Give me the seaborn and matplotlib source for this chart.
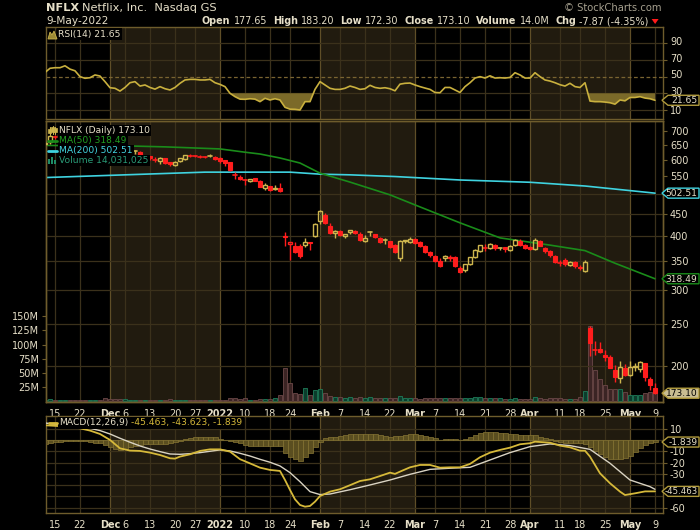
import numpy as np
import pandas as pd
import matplotlib
matplotlib.use("Agg")
import matplotlib.pyplot as plt
import seaborn as sns
from matplotlib.patches import Rectangle, Polygon
from matplotlib.lines import Line2D
from matplotlib.ticker import FixedLocator, NullLocator
from matplotlib.transforms import ScaledTranslation

# ---------------- data ----------------
dates = (
    ["2021-11-%02d" % d for d in [11, 12, 15, 16, 17, 18, 19, 22, 23, 24, 26, 29, 30]]
    + ["2021-12-%02d" % d for d in [1, 2, 3, 6, 7, 8, 9, 10, 13, 14, 15, 16, 17, 20, 21, 22, 23, 27, 28, 29, 30, 31]]
    + ["2022-01-%02d" % d for d in [3, 4, 5, 6, 7, 10, 11, 12, 13, 14, 18, 19, 20, 21, 24, 25, 26, 27, 28, 31]]
    + ["2022-02-%02d" % d for d in [1, 2, 3, 4, 7, 8, 9, 10, 11, 14, 15, 16, 17, 18, 22, 23, 24, 25, 28]]
    + ["2022-03-%02d" % d for d in [1, 2, 3, 4, 7, 8, 9, 10, 11, 14, 15, 16, 17, 18, 21, 22, 23, 24, 25, 28, 29, 30, 31]]
    + ["2022-04-%02d" % d for d in [1, 4, 5, 6, 7, 8, 11, 12, 13, 14, 18, 19, 20, 21, 22, 25, 26, 27, 28, 29]]
    + ["2022-05-%02d" % d for d in [2, 3, 4, 5, 6, 9]]
)

opens = [653, 660, 681.2, 678.3, 690, 691.6, 683, 676, 658, 658, 655, 663, 668,
         647, 608, 616, 603, 616, 627, 627, 608, 612, 600, 596, 605, 592, 585, 596, 603, 615, 615, 613, 610, 612, 610,
         605, 599, 592, 555, 549, 538, 536, 544, 537, 517, 521, 513, 517, 400.4, 383.9, 379.1, 378.3, 382.1, 386.8, 401,
         433, 448.3, 421.4, 407.3, 410.2, 399, 408, 410, 405, 390, 406, 404, 396, 390, 389, 382, 355, 389, 388,
         393, 387, 380, 367, 360, 351, 356, 355, 358, 338, 333, 345, 358, 369, 375, 375, 382, 377, 377, 372, 381, 390, 381,
         377, 374, 390, 376, 370, 360, 347, 352, 342, 348, 339, 332, 245, 219, 219.5, 212.5, 210, 196, 188, 197.5,
         191, 199, 197, 203, 187, 177.65]
highs = [663, 683.3, 685.3, 688.4, 694.2, 691.7, 686, 679, 661, 662, 670, 673, 668,
         650, 620, 621, 616, 627, 632, 630, 616, 614, 608, 610, 606, 594, 597, 606, 617, 618, 616, 615, 613, 620, 612,
         609, 600, 593, 563, 553, 543, 543, 546, 538, 530, 523, 525, 530, 409.2, 387.3, 387.7, 382.7, 394.8, 387, 427.7,
         458.5, 452, 429.3, 412.8, 412.2, 405, 414, 414, 408, 402, 410, 405, 397, 395, 390, 383, 392, 392, 398,
         396, 389, 382, 369, 362, 355, 361, 361, 360, 341, 345, 358, 373, 382, 384, 385, 384, 378, 378, 381, 393, 393, 383,
         380, 395, 392, 378, 372, 362, 352, 355, 350, 350, 343, 352, 248, 229, 228, 218, 212, 201, 205, 202,
         205, 203, 205, 203.5, 189, 183.2]
lows = [650, 653.9, 671.5, 676.9, 682.6, 674.5, 676, 657, 645, 648, 650, 660, 636,
        616, 599, 597, 595, 614, 620, 610, 603, 601, 592, 588, 588, 582, 582, 592, 601, 610, 608, 605, 605, 610, 601,
        590, 581, 566, 542, 538, 526, 533, 535, 518, 512, 509, 510, 505, 380, 351.5, 365.1, 356.6, 378.1, 372.1, 398.2,
        425.5, 426.5, 404.3, 396.6, 400, 396, 404, 404, 390, 388, 401, 396, 385, 384, 375, 366, 351, 385, 386,
        384, 377, 365, 358, 348, 339, 350, 350, 339, 329, 331, 342, 356, 368, 370, 374, 371, 371, 368, 369, 380, 380, 374,
        371, 372, 379, 365, 358, 347, 341, 341, 340, 338, 333, 330, 211, 212, 214, 205, 198, 184, 183, 189.5,
        190, 195, 194, 185, 176, 172.3]
closes = [657.6, 682.6, 679.3, 687.4, 691.7, 682.0, 678.8, 659.2, 654.1, 658.3, 665.6, 663.8, 641.9,
          617.8, 616.5, 602.1, 612.7, 625.6, 628.1, 611.0, 611.7, 604.6, 598.0, 605.0, 591.1, 586.7, 593.7, 604.9, 614.2,
          614.1, 613.1, 610.7, 610.5, 612.1, 602.4,
          597.4, 591.2, 567.5, 553.3, 541.1, 539.9, 540.8, 537.2, 519.2, 525.7, 510.8, 515.9, 508.3, 397.5, 387.2, 366.4,
          359.7, 386.7, 384.4, 427.1,
          457.1, 429.5, 405.6, 410.2, 402.1, 403.5, 412.9, 406.3, 391.3, 396.6, 407.5, 398.1, 386.7, 391.3, 377.4, 367.5,
          390.0, 390.8, 394.5,
          386.2, 380.0, 368.1, 361.7, 350.3, 341.8, 358.8, 356.8, 340.3, 331.0, 343.8, 357.5, 371.4, 380.6, 374.6, 382.9,
          374.5, 375.7, 373.9, 378.5, 391.8, 381.5, 374.6,
          373.5, 391.5, 380.2, 368.4, 362.2, 348.7, 346.0, 345.0, 348.5, 340.0, 337.5, 348.6, 226.2, 218.2, 215.5, 209.9,
          198.4, 188.5, 199.5, 190.4,
          199.5, 199.9, 204.0, 188.3, 181.0, 173.1]
volumes_m = [2.6, 4.6, 3.0, 2.6, 2.9, 2.6, 2.4, 3.4, 2.9, 2.4, 1.8, 2.4, 6.5,
             4.7, 3.8, 4.7, 3.6, 3.2, 2.9, 3.2, 2.8, 2.9, 3.1, 3.3, 3.4, 3.6, 2.7, 3.0, 3.1, 2.0, 1.9, 2.1, 1.8, 1.7, 2.0,
             3.1, 3.4, 5.2, 5.6, 4.8, 5.9, 3.4, 3.2, 5.0, 4.1, 4.4, 6.7, 11.5, 58.9, 32.3, 15.0, 13.0, 23.6, 11.0, 20.0,
             21.7, 14.7, 10.0, 7.6, 7.0, 6.5, 7.5, 6.8, 8.5, 6.9, 7.2, 5.8, 6.7, 5.5, 6.9, 6.4, 8.9, 6.0, 5.2,
             5.9, 5.0, 5.6, 5.4, 6.5, 6.2, 6.4, 5.2, 6.8, 6.8, 6.1, 6.0, 7.4, 7.8, 5.6, 6.3, 5.4, 5.9, 4.4, 5.0, 6.4, 4.9, 4.1,
             4.5, 7.6, 5.6, 5.0, 5.2, 5.9, 5.4, 4.3, 5.1, 4.9, 7.0, 17.7, 133.4, 55.0, 39.0, 29.0, 21.7, 21.7, 22.0, 16.0,
             12.0, 12.0, 12.0, 14.0, 17.0, 14.0]

ma50_idx = [0, 17, 24, 35, 40, 43, 47, 51, 55, 61, 69, 74, 83, 91, 101, 108, 114, 122]
ma50_val = [648, 646, 643, 636, 625, 619, 606, 590, 559, 533, 498, 472, 429, 396, 381, 370, 346, 318.49]
ma200_idx = [0, 16, 26, 32, 49, 55, 61, 70, 83, 97, 108, 122]
ma200_val = [546, 554, 559, 562, 562, 556, 554, 549, 539, 532.5, 522, 502.51]

rsi = [55, 60, 60.7, 60.7, 63, 59, 57, 50, 48, 48.7, 52, 50.7, 44, 36.7, 36, 32.7, 37, 42.7, 44, 38.7,
       40, 37, 35, 38, 35.5, 34, 37, 42, 46, 46.7, 46.7, 46, 46, 46.7, 42.7, 40.7, 38, 30, 26, 23,
       22.8, 23.5, 23, 20, 24, 22, 23.5, 22, 13.2, 11, 10.8, 10, 20, 20, 34.7, 44, 40, 36, 34.7, 34.7,
       36, 38.7, 37, 34.7, 35.5, 39.6, 37, 36, 36.7, 35.5, 33, 41, 42, 42.3, 40, 38, 36.3, 34.7, 31, 30.7,
       37, 37, 34, 31, 38, 42.7, 48.3, 50, 48.3, 51, 48.3, 48.7, 48.3, 49, 54.7, 52, 48.3, 48.3, 54.7, 50,
       46, 44.7, 42.7, 40.3, 38.7, 42, 38, 37, 42.7, 20.7, 20, 20, 19.5, 18.7, 17, 22, 21, 25, 25, 26,
       24.3, 23.5, 21.65]

macd_idx = [0, 4, 7, 9, 11, 13, 15, 17, 19, 21, 23, 25, 26, 27, 29, 31, 33, 35, 37, 39, 41, 43, 45, 47, 48, 49,
            50, 51, 52, 53, 54, 55, 57, 59, 61, 63, 65, 67, 69, 70, 71, 73, 75, 77, 79, 81, 83, 85, 87, 89, 91, 93,
            95, 97, 98, 101, 103, 105, 107, 108, 109, 111, 113, 115, 116, 118, 120, 122]
macd_val = [13, 12, 10.3, 8.3, 5.3, 0, -7.4, -9.4, -9.7, -11.2, -13.3, -16.2, -16.5, -14.7, -12.7, -9.7, -8.3,
            -8.3, -10.3, -17, -20.7, -24.5, -26.5, -27.4, -35.4, -44.2, -52.5, -57.5, -59, -58.4, -54.6, -49.6,
            -45.7, -43.6, -40, -36.3, -34.8, -31.9, -28.9, -30, -28, -24.2, -22.1, -22.1, -24.5, -24.2, -24.2,
            -21.2, -15.3, -11.2, -8.8, -6.8, -3.8, -2.9, -1.5, -2.4, -5, -6.5, -9.5, -9.5, -14.7, -29.5, -38.3,
            -45.7, -48.7, -47.2, -45.5, -45.463]
signal_idx = [0, 4, 9, 11, 13, 15, 17, 19, 21, 23, 25, 27, 29, 31, 33, 35, 37, 39, 41, 43, 45, 47, 49, 51, 53,
              55, 57, 61, 65, 69, 73, 77, 81, 85, 89, 93, 97, 101, 105, 109, 113, 117, 121, 122]
signal_val = [15, 13, 10.3, 8.3, 5.3, 1.5, -2, -5.3, -8, -10.3, -12.4, -12.7, -12.1, -11.2, -10, -8.8, -9.7,
              -11.8, -14.2, -17.1, -19.7, -23, -28.9, -36.9, -45.7, -48.3, -47.8, -44, -39.8, -35.4, -30.4, -26,
              -25, -24.2, -17.7, -11.2, -5.9, -3.5, -5, -8.3, -20.6, -35.4, -41.3, -43.623]
hist = [-4, -3, -2, -1.5, -1, -0.8, -0.8, -1, -1.2, -1.8, -2.5, -3, -4.5, -6, -8, -8.8, -8, -6.5, -5.3, -4.4,
        -4, -3.8, -3.6, -3.5, -3.2, -3, -2, -0.6, 1, 1.8, 2.2, 2.4, 2.7, 3, 2.2, 1, 0, -1, -2, -3,
        -4.2, -5.3, -5.3, -5.3, -5.3, -5.3, -5.3, -5.3, -11.2, -14.7, -17.1, -18.3, -14.7, -11.8, -5.9, -1.5, 1.5, 2.2, 2.8, 3.3,
        4, 5.3, 5.3, 5.3, 5.3, 5.3, 5, 4.7, 3.8, 3, 3.4, 3.8, 4.6, 5.3, 5, 4.7, 3.8, 3, 1.5, 0,
        0.8, 1.2, 0.6, 0, 1, 2.4, 4.2, 5.9, 6.8, 7.4, 6.8, 6.2, 5.8, 5.3, 5, 4.7, 4.7, 4.7, 4, 3,
        2, 0.9, -0.5, -2, -2.3, -2.6, -2.8, -3, -4, -6.5, -9.5, -12.4, -14.8, -16.8, -16.8, -16.8, -15.8, -14, -10.9, -7.1,
        -4.5, -3, -1.839]

tick_dates = ["2021-11-15", "2021-11-22", "2021-12-01", "2021-12-06", "2021-12-13", "2021-12-20", "2021-12-27",
              "2022-01-03", "2022-01-10", "2022-01-18", "2022-01-24", "2022-02-01", "2022-02-07", "2022-02-14",
              "2022-02-22", "2022-03-01", "2022-03-07", "2022-03-14", "2022-03-21", "2022-03-28", "2022-04-01",
              "2022-04-11", "2022-04-18", "2022-04-25", "2022-05-02", "2022-05-09"]
tick_labels = ["15", "22", "Dec", "6", "13", "20", "27", "2022", "10", "18", "24", "Feb", "7", "14", "22", "Mar",
               "7", "14", "21", "28", "Apr", "11", "18", "25", "May", "9"]
month_labels = ["Dec", "2022", "Feb", "Mar", "Apr", "May"]
shade_months = [("2021-12-01", "2022-01-03"), ("2022-02-01", "2022-03-01"), ("2022-04-01", "2022-05-02")]

price_ticks = [200, 250, 300, 350, 400, 450, 550, 600, 650, 700]
price_grid = [200, 250, 300, 350, 400, 450, 500]
vol_ticks = [25, 50, 75, 100, 125, 150]
rsi_ticks = [10, 30, 50, 70, 90]
macd_ticks = [10, -10, -20, -30, -60]

# ---------------- style ----------------
sns.set_theme(style="dark")
plt.rcParams['font.family'] = ['DejaVu Sans']

SHADE = '#211b0f'
GRID = '#3b311b'
GRID_M = '#5f4e27'
FRAME = '#6e5c2c'
TXT = '#e6dfc8'
GOLD = '#cdb54e'
RED = '#ff1d1d'
FS = 7.0

df = pd.DataFrame({"date": dates, "open": opens, "high": highs, "low": lows, "close": closes, "vol": volumes_m})
df["i"] = np.arange(len(df))
pos = {d: k for k, d in enumerate(dates)}
tick_pos = [pos[d] for d in tick_dates]
XLIM = (0.2, 123.6)

W_, H_ = 700, 530
fig = plt.figure(figsize=(7, 5.3), dpi=100, facecolor='black')
L, W = 46 / W_, 617 / W_


def frame_box(top, bot):
    return [L, 1 - bot / H_, W, (bot - top) / H_]


ax_r = fig.add_axes(frame_box(27, 119))
ax_v = fig.add_axes(frame_box(121, 402))
ax_p = ax_v.twinx()
ax_m = fig.add_axes(frame_box(416, 513))
ax_p.set_zorder(ax_v.get_zorder() + 1)
ax_p.patch.set_visible(False)

for ax in (ax_r, ax_v, ax_p, ax_m):
    ax.set_facecolor('black')
    ax.grid(False)
    for s in ax.spines.values():
        s.set_color(FRAME)
        s.set_linewidth(1.0)
    ax.tick_params(colors=TXT, labelsize=FS, length=3, width=0.8, pad=2)
    ax.tick_params(axis='both', which='both', color=FRAME)
    ax.set_xlim(*XLIM)

# bands and vertical grid
for ax in (ax_r, ax_v, ax_m):
    for a, b in shade_months:
        ax.axvspan(pos[a], pos[b], color=SHADE, lw=0, zorder=0)
    for t, lab in zip(tick_pos, tick_labels):
        ax.axvline(t, color=GRID_M if lab in month_labels else GRID, lw=0.9, zorder=0.5)

# ---------------- RSI ----------------
for v in [10, 30, 70, 90]:
    ax_r.axhline(v, color=GRID, lw=0.9, zorder=0.6)
ax_r.axhline(50, color='#7a6431', lw=0.9, ls=(0, (3, 2)), zorder=0.6)
r = np.array(rsi)
ax_r.fill_between(df["i"], r, 30, where=r < 30, interpolate=True, color='#7b6a29', lw=0, zorder=1)
sns.lineplot(x=df["i"], y=r, ax=ax_r, color='#c9b03e', lw=1.2, zorder=3)
ax_r.set_ylim(-0.8, 109.5)
ax_r.yaxis.tick_right()
ax_r.set_yticks(rsi_ticks)
ax_r.set_yticklabels([str(v) for v in rsi_ticks])
for lab in ax_r.get_yticklabels():
    if lab.get_text() in ("30", "50", "70", "90"):
        lab.set_transform(lab.get_transform() + ScaledTranslation(0, 1.6 / 72, fig.dpi_scale_trans))
ax_r.set_xticks(tick_pos)
ax_r.tick_params(axis='x', length=0, labelbottom=False)
ax_r.set_xlabel(""); ax_r.set_ylabel("")

# ---------------- volume ----------------
up = df["close"].values >= np.r_[df["open"].values[0], df["close"].values[:-1]]
vcol = np.where(up, '#0c3c2c', '#3b2424')
vedge = np.where(up, '#1f7d5a', '#6c4848')
ax_v.bar(df["i"], df["vol"], width=0.92, color=vcol, edgecolor=vedge, lw=0.6, zorder=2)
ax_v.set_ylim(-1, 494)
ax_v.yaxis.tick_left()
ax_v.set_yticks(vol_ticks)
ax_v.set_yticklabels([f"{v}M" for v in vol_ticks])
ax_v.set_xticks(tick_pos)
ax_v.set_xticklabels(tick_labels)
for tl in ax_v.get_xticklabels():
    if tl.get_text() in month_labels:
        tl.set_fontweight('bold')

# ---------------- price ----------------
ax_p.set_yscale('log')
ax_p.set_ylim(165.2, 738)
ax_p.yaxis.set_major_locator(FixedLocator(price_ticks))
ax_p.yaxis.set_minor_locator(NullLocator())
ax_p.set_yticklabels([str(v) for v in price_ticks])
ax_p.tick_params(axis='y', colors=TXT, labelsize=FS, color=FRAME, length=3)
for v in price_grid:
    ax_p.axhline(v, color=GRID, lw=0.9, zorder=0.6)

sns.lineplot(x=ma200_idx, y=ma200_val, ax=ax_p, color='#3fd3e0', lw=1.2, zorder=2)
sns.lineplot(x=ma50_idx, y=ma50_val, ax=ax_p, color='#1a8c1a', lw=1.2, zorder=2)

prev = np.r_[opens[0], closes[:-1]]
for k in range(len(df)):
    o, h, l, c = opens[k], highs[k], lows[k], closes[k]
    col = RED if c < prev[k] else GOLD
    lo_b, hi_b = min(o, c), max(o, c)
    if hi_b / lo_b < 1.004:
        ax_p.plot([k, k], [l, h], color=col, lw=1.0, zorder=3, solid_capstyle='butt')
        ax_p.plot([k - 0.35, k + 0.35], [c, c], color=col, lw=1.2, zorder=3)
        continue
    if c < o:
        ax_p.plot([k, k], [l, h], color=col, lw=1.0, zorder=3, solid_capstyle='butt')
        ax_p.add_patch(Rectangle((k - 0.33, lo_b), 0.66, hi_b - lo_b, facecolor=col, edgecolor=col, lw=0.8, zorder=4))
    else:
        ax_p.plot([k, k], [l, lo_b], color=col, lw=1.0, zorder=3, solid_capstyle='butt')
        ax_p.plot([k, k], [hi_b, h], color=col, lw=1.0, zorder=3, solid_capstyle='butt')
        ax_p.add_patch(Rectangle((k - 0.33, lo_b), 0.66, hi_b - lo_b, facecolor='none', edgecolor=col, lw=1.0, zorder=4))
ax_p.set_xlim(*XLIM)
ax_p.set_xlabel(""); ax_p.set_ylabel("")
ax_v.set_xlabel(""); ax_v.set_ylabel("")

# ---------------- MACD ----------------
for v in [10, 0, -10, -20, -30, -40, -50, -60]:
    ax_m.axhline(v, color=GRID, lw=0.9, zorder=0.6)
ax_m.bar(df["i"], hist, width=1.0, color='#5a4e20', edgecolor='#877634', lw=0.5, zorder=1)
sns.lineplot(x=signal_idx, y=signal_val, ax=ax_m, color='#d9d3c3', lw=1.0, zorder=3)
sns.lineplot(x=macd_idx, y=macd_val, ax=ax_m, color='#d6b93a', lw=1.3, zorder=4)
ax_m.set_ylim(-64.6, 21.2)
ax_m.yaxis.tick_right()
ax_m.set_yticks(macd_ticks)
ax_m.set_yticklabels([str(v) for v in macd_ticks])
ax_m.set_xticks(tick_pos)
ax_m.set_xticklabels(tick_labels)
for tl in ax_m.get_xticklabels():
    if tl.get_text() in month_labels:
        tl.set_fontweight('bold')
ax_m.set_xlim(*XLIM)
ax_m.set_xlabel(""); ax_m.set_ylabel("")

# ---------------- overlay texts ----------------
renderer = fig.canvas.get_renderer()


def fx(x):
    return x / W_


def fyy(y):
    return 1 - y / H_


def seq(x0, y, pieces, size=FS, bg=None, z=7):
    x = x0
    for s, w, c, gap in pieces:
        kw = {}
        if bg:
            kw['bbox'] = dict(facecolor=bg, edgecolor='none', pad=1.0)
        t = fig.text(fx(x), fyy(y), s, fontsize=size, fontweight=w, color=c, ha='left', va='center', zorder=z, **kw)
        bb = t.get_window_extent(renderer=renderer)
        x += bb.width + gap
    return x


# header
seq(46, 8, [("NFLX", 'bold', TXT, 3), ("Netflix, Inc.  Nasdaq GS", 'normal', TXT, 0)], size=8.2)
fig.text(fx(46), fyy(21), "9-May-2022", fontsize=7.6, color=TXT, ha='left', va='center')
fig.text(fx(662), fyy(8), "© StockCharts.com", fontsize=7.2, color='#a59f8e', ha='right', va='center')
xe = seq(202, 21, [("Open", 'bold', TXT, 3), ("177.65", 'normal', TXT, 6), ("High", 'bold', TXT, 3),
                   ("183.20", 'normal', TXT, 6), ("Low", 'bold', TXT, 3), ("172.30", 'normal', TXT, 6),
                   ("Close", 'bold', TXT, 3), ("173.10", 'normal', TXT, 6), ("Volume", 'bold', TXT, 3),
                   ("14.0M", 'normal', TXT, 6), ("Chg", 'bold', TXT, 3), ("-7.87 (-4.35%)", 'normal', TXT, 3)],
         size=6.9)
fig.patches.append(Polygon([[fx(xe), fyy(19)], [fx(xe + 7), fyy(19)], [fx(xe + 3.5), fyy(24)]], closed=True,
                           transform=fig.transFigure, facecolor='#ff1a1a', edgecolor='none', zorder=7))

LS = 6.6
# RSI legend
seq(58, 34, [("RSI(14) 21.65", 'normal', TXT, 0)], size=LS, bg='black')
fig.patches.append(Polygon([[fx(48), fyy(39)], [fx(50), fyy(32)], [fx(52), fyy(35)], [fx(54), fyy(31)],
                            [fx(57), fyy(39)]], closed=True, transform=fig.transFigure,
                           facecolor='#9c8a34', edgecolor='#cdb54e', lw=0.6, zorder=8))

# price legend
seq(59, 130.5, [("NFLX (Daily) 173.10", 'normal', TXT, 0)], size=LS, bg='black')
seq(59, 140.5, [("MA(50) 318.49", 'normal', '#22a022', 0)], size=LS, bg='black')
seq(59, 150.5, [("MA(200) 502.51", 'normal', '#44d6e2', 0)], size=LS, bg='black')
seq(59, 160.5, [("Volume 14,031,025", 'normal', '#2a9c78', 0)], size=LS, bg='black')
for (k, y0, y1, yb, yt) in [(49.5, 127, 135, 128.5, 133), (52.5, 126, 134, 127, 131.5), (55.5, 127, 134, 128, 132)]:
    fig.lines.append(Line2D([fx(k), fx(k)], [fyy(y1), fyy(y0)], transform=fig.transFigure, color=GOLD, lw=0.8, zorder=9))
    fig.patches.append(Rectangle((fx(k - 1.2), fyy(yt)), fx(2.4), (yt - yb) / H_, transform=fig.transFigure,
                                 facecolor=GOLD, edgecolor=GOLD, lw=0.5, zorder=9))
fig.lines.append(Line2D([fx(48), fx(57)], [fyy(140.5)] * 2, transform=fig.transFigure, color='#1a8c1a', lw=2, zorder=9))
fig.lines.append(Line2D([fx(48), fx(57)], [fyy(150.5)] * 2, transform=fig.transFigure, color='#3fd3e0', lw=2, zorder=9))
for k, hh in [(49, 5), (52, 7), (55, 4)]:
    fig.patches.append(Rectangle((fx(k - 1), fyy(164)), fx(2.2), hh / H_, transform=fig.transFigure,
                                 facecolor='#1f8c66', edgecolor='none', zorder=9))

# MACD legend
seq(59, 423, [("MACD(12,26,9)", 'normal', TXT, 3), ("-45.463, -43.623, -1.839", 'normal', '#d6b93a', 0)],
    size=LS, bg='black')
fig.lines.append(Line2D([fx(49), fx(57)], [fyy(423)] * 2, transform=fig.transFigure, color='#d6b93a', lw=2, zorder=9))


# right value boxes
def value_box(ax, val, label, edge, face='black', tcol=TXT, size=6.6):
    disp = ax.transData.transform((XLIM[1], val))
    yp = H_ - disp[1]
    x0 = 662
    pts = [(x0, yp), (x0 + 6, yp - 5.0), (x0 + 37, yp - 5.0), (x0 + 37, yp + 5.0), (x0 + 6, yp + 5.0)]
    fig.patches.append(Polygon([[fx(a), fyy(b)] for a, b in pts], closed=True, transform=fig.transFigure,
                               facecolor=face, edgecolor=edge, lw=1.0, zorder=8))
    fig.text(fx(697.5), fyy(yp + 0.3), label, fontsize=size, color=tcol, ha='right', va='center', zorder=9)


value_box(ax_r, 21.65, "21.65", '#b09a3c')
value_box(ax_p, 502.51, "502.51", '#3fd3e0')
value_box(ax_p, 318.49, "318.49", '#1a8c1a')
value_box(ax_p, 173.10, "173.10", '#b09a3c', face='#c9bd92', tcol='black')
value_box(ax_m, -1.839, "-1.839", '#b09a3c')
value_box(ax_m, -45.463, "-45.463", '#b09a3c', size=6.2)

fig.savefig("out.png", dpi=100, facecolor='black')
